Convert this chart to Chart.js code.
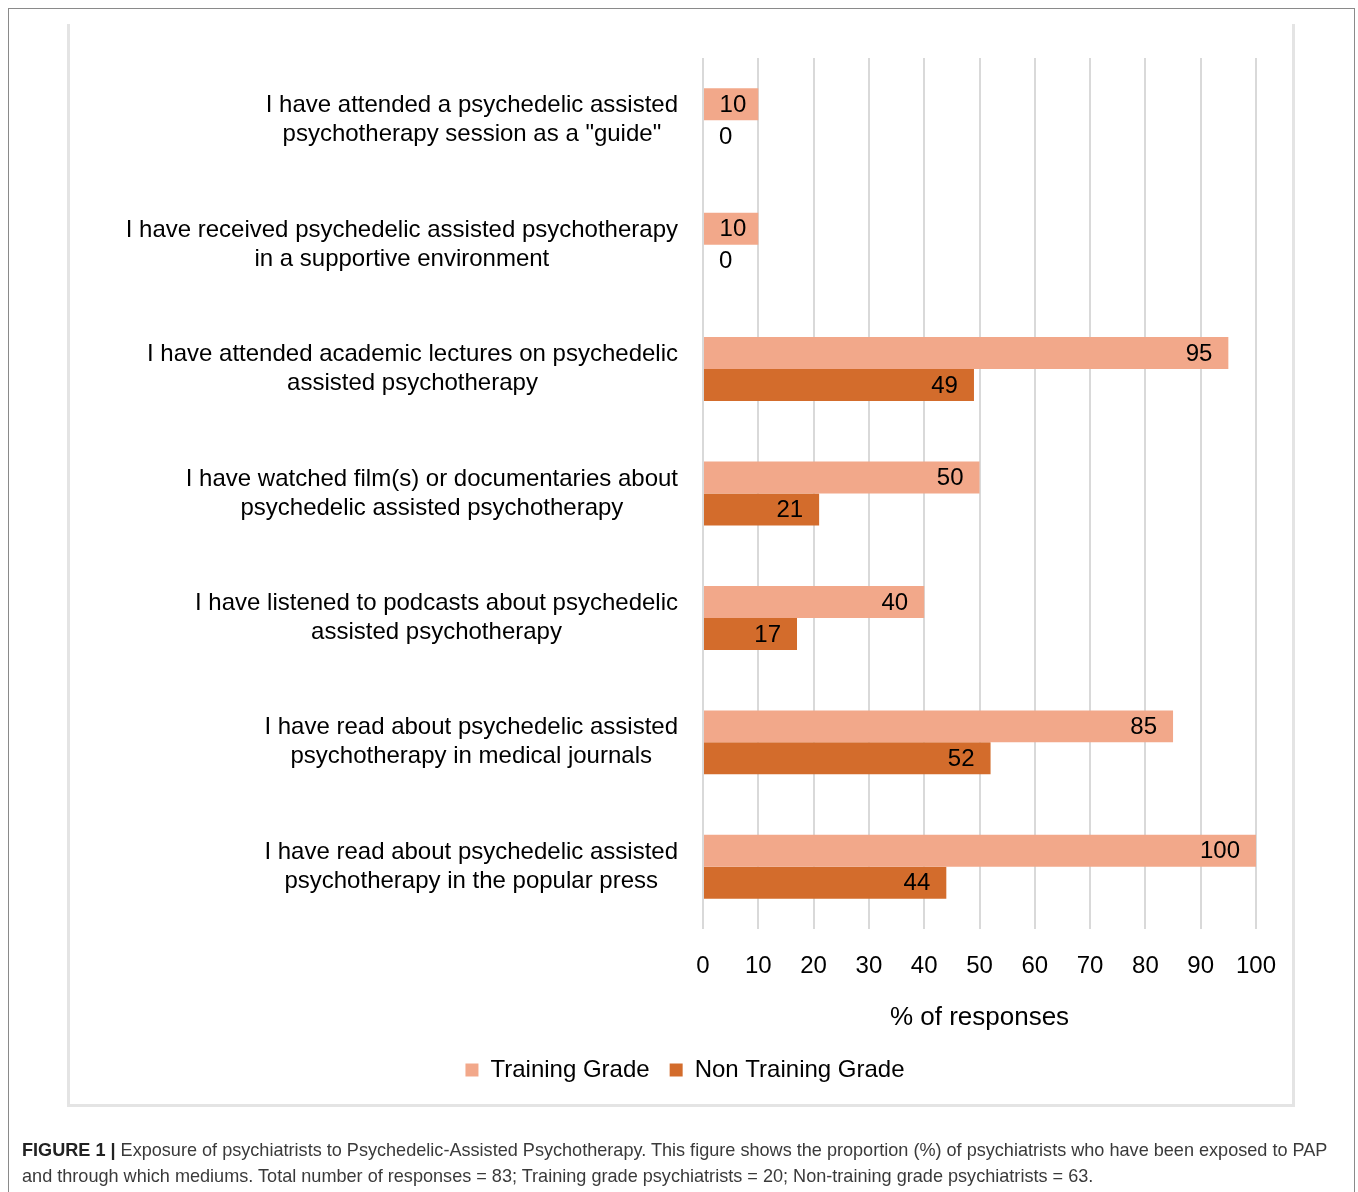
<!DOCTYPE html>
<html>
<head>
<meta charset="utf-8">
<script src="https://cdn.jsdelivr.net/npm/chart.js@4.4.1/dist/chart.umd.min.js"></script>
<style>
  html, body { margin: 0; padding: 0; background: #fff; }
  body { width: 1358px; height: 1192px; position: relative; overflow: hidden; font-family: "Liberation Sans", Arial, sans-serif; }
  #frame { position: absolute; left: 8px; top: 8px; width: 1345px; height: 1250px; border: 1.5px solid #8a8a8a; border-bottom: none; }
  #box { position: absolute; left: 67px; top: 24px; width: 1222px; height: 1080px; border: 3px solid #e4e4e4; border-top: none; }
  #wrap { position: absolute; left: 0; top: 0; width: 1358px; height: 1192px; }
  .cap { position: absolute; left: 22px; white-space: nowrap; font-size: 18.1px; color: #3a3a3a; letter-spacing: 0px; }
  .cap b { color: #222; }
</style>
</head>
<body>
<div id="frame"></div>
<div id="box"></div>
<div id="wrap"><canvas id="c" width="1358" height="1192"></canvas></div>
<div class="cap" style="top:1140px;"><b>FIGURE 1 |</b> Exposure of psychiatrists to Psychedelic-Assisted Psychotherapy. This figure shows the proportion (%) of psychiatrists who have been exposed to PAP</div>
<div class="cap" style="top:1166px;">and through which mediums. Total number of responses = 83; Training grade psychiatrists = 20; Non-training grade psychiatrists = 63.</div>
<script>
const categories = [
  ["I have attended a psychedelic assisted", "psychotherapy session as a \"guide\""],
  ["I have received psychedelic assisted psychotherapy", "in a supportive environment"],
  ["I have attended academic lectures on psychedelic", "assisted psychotherapy"],
  ["I have watched film(s) or documentaries about", "psychedelic assisted psychotherapy"],
  ["I have listened to podcasts about psychedelic", "assisted psychotherapy"],
  ["I have read about psychedelic assisted", "psychotherapy in medical journals"],
  ["I have read about psychedelic assisted", "psychotherapy in the popular press"]
];
const trainingGrade = [10, 10, 95, 50, 40, 85, 100];
const nonTrainingGrade = [0, 0, 49, 21, 17, 52, 44];
const xTicks = [0, 10, 20, 30, 40, 50, 60, 70, 80, 90, 100];

const FONT = '"Liberation Sans", Arial, sans-serif';

const yLabelPlugin = {
  id: 'yLabels',
  afterDraw(chart) {
    const ctx = chart.ctx;
    const y = chart.scales.y;
    ctx.save();
    ctx.font = '24px ' + FONT;
    ctx.fillStyle = '#000';
    ctx.textAlign = 'center';
    ctx.textBaseline = 'middle';
    const rightEdge = chart.chartArea.left - 25;
    const lh = 29;
    chart.data.labels.forEach((lines, i) => {
      const cy = y.getPixelForValue(i);
      const maxW = Math.max(...lines.map(l => ctx.measureText(l).width));
      const cx = rightEdge - maxW / 2;
      const n = lines.length;
      lines.forEach((l, k) => {
        ctx.fillText(l, cx, cy + (k - (n - 1) / 2) * lh);
      });
    });
    ctx.restore();
  }
};

const valueLabelPlugin = {
  id: 'valueLabels',
  afterDatasetsDraw(chart) {
    const ctx = chart.ctx;
    ctx.save();
    ctx.font = '24px ' + FONT;
    ctx.fillStyle = '#000';
    ctx.textBaseline = 'middle';
    chart.data.datasets.forEach((ds, di) => {
      const meta = chart.getDatasetMeta(di);
      meta.data.forEach((bar, i) => {
        const v = ds.data[i];
        const txt = String(v);
        const w = ctx.measureText(txt).width;
        const len = bar.x - bar.base;
        if (v === 0) {
          ctx.textAlign = 'left';
          ctx.fillText(txt, bar.base + 16, bar.y + 1);
        } else {
          ctx.textAlign = 'right';
          const pad = (len < w + 32) ? 12 : 16;
          ctx.fillText(txt, bar.x - pad, bar.y + 1);
        }
      });
    });
    ctx.restore();
  }
};

new Chart(document.getElementById('c'), {
  type: 'bar',
  data: {
    labels: categories,
    datasets: [
      { label: 'Training Grade', data: trainingGrade, backgroundColor: '#F2A88A', borderWidth: 0 },
      { label: 'Non Training Grade', data: nonTrainingGrade, backgroundColor: '#D36C2C', borderWidth: 0 }
    ]
  },
  options: {
    indexAxis: 'y',
    responsive: false,
    animation: false,
    events: [],
    layout: { padding: { left: 12, right: 0, top: 58, bottom: 100 } },
    datasets: { bar: { barPercentage: 1.0, categoryPercentage: 0.514 } },
    scales: {
      x: {
        min: 0, max: 100,
        afterFit(scale) { scale.height = 109; },
        afterBuildTicks(scale) { scale.ticks = xTicks.map(v => ({ value: v })); },
        grid: { color: '#d9d9d9', lineWidth: 2, drawTicks: false },
        border: { display: false },
        ticks: { color: '#000', font: { size: 24, family: FONT }, padding: 23, maxRotation: 0, autoSkip: false },
        title: { display: true, text: '% of responses', color: '#000', font: { size: 26, family: FONT }, padding: { top: 0, bottom: 5 } }
      },
      y: {
        position: 'left',
        afterFit(scale) { scale.width = 691; },
        ticks: { display: false },
        grid: { display: false },
        border: { display: false }
      },
      yRight: {
        type: 'linear',
        position: 'right',
        afterFit(scale) { scale.width = 102; },
        ticks: { display: false },
        grid: { display: false },
        border: { display: false }
      }
    },
    plugins: {
      legend: {
        position: 'bottom',
        labels: { color: '#000', font: { size: 24, family: FONT }, boxWidth: 13, boxHeight: 13, padding: 20 }
      },
      tooltip: { enabled: false }
    }
  },
  plugins: [yLabelPlugin, valueLabelPlugin]
});
</script>
</body>
</html>
